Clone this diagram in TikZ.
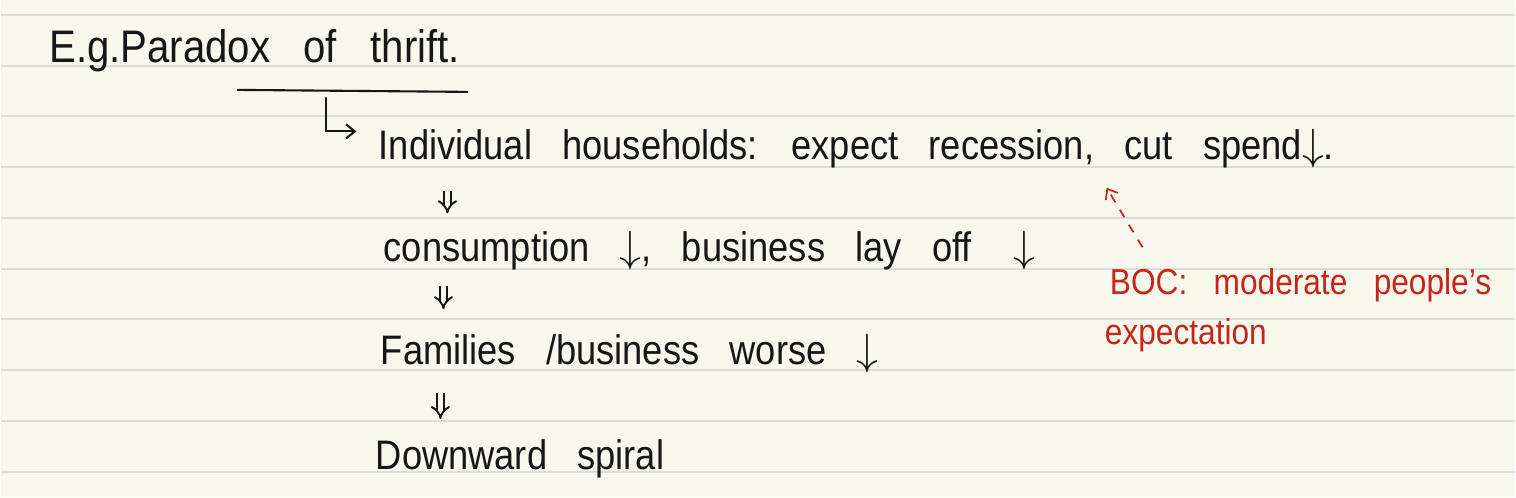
\documentclass[tikz,border=0pt]{standalone}
\usepackage{fontspec}
\setmainfont[FakeStretch=0.88,WordSpace=3]{Liberation Sans}
\usetikzlibrary{arrows.meta,calc}
\definecolor{paper}{RGB}{248,247,236}
\definecolor{ruleline}{RGB}{219,219,216}
\definecolor{ink}{RGB}{22,22,22}
\definecolor{redink}{RGB}{196,38,28}

\begin{document}
\begin{tikzpicture}[x=0.02cm,y=-0.02cm,>={Straight Barb[length=5pt,width=8pt]},
  txt/.style={anchor=base west,inner sep=0pt,text height=16pt,text depth=5pt,text=ink,font=\fontsize{23.5}{28}\selectfont},
  note/.style={txt,text=redink,font=\fontsize{20.5}{26}\selectfont},
  pen/.style={draw=ink,line width=1.2pt,line cap=round},
  dbl/.style={draw=ink,double=paper,double distance=2.6pt,line width=1.1pt,-{Implies}}]
 \fill[paper] (0,0) rectangle (1516,498);
 \foreach \k in {0,...,9}{ \draw[ruleline,line width=1.1pt] (0,15+50.8*\k) -- (1516,15+50.8*\k); }

 \node[txt,font=\fontsize{26}{30}\selectfont] (title) at (48,63) {E.g.Paradox of thrift.};
 \draw[pen] (237,90) -- (467,92);
 \coordinate (ul) at (325,98);
 \node[txt] (hh) at (378,160) {Individual households: expect recession, cut spend$\big\downarrow$.};
 \node[txt] (cons) at (383,262) {consumption $\big\downarrow$, business lay off\quad$\big\downarrow$};
 \node[txt] (fam) at (380,365) {Families /business worse $\big\downarrow$};
 \node[txt] (spiral) at (375,470) {Downward spiral};
 \node[note] (boc) at (1110,295) {BOC: moderate people's};
 \node[note] (expe) at (1105,345) {expectation};
 \coordinate (cut) at (1107,188);

 \draw[pen,->] (ul) |- ($(hh.north west)+(-22,0)$);
 \draw[dbl] ($(hh.south west)+(69,22)$) -- ($(cons.north west)+(64,-20)$);
 \draw[dbl] ($(cons.south west)+(60,15)$) -- ($(fam.north west)+(63,-27)$);
 \draw[dbl] ($(fam.south west)+(60,19)$) -- ($(spiral.north west)+(65,-22)$);
 \draw[redink,line width=1pt,dash pattern=on 5pt off 5pt,->] ($(boc.north west)+(33,-19)$) -- (cut);
\end{tikzpicture}
\end{document}
